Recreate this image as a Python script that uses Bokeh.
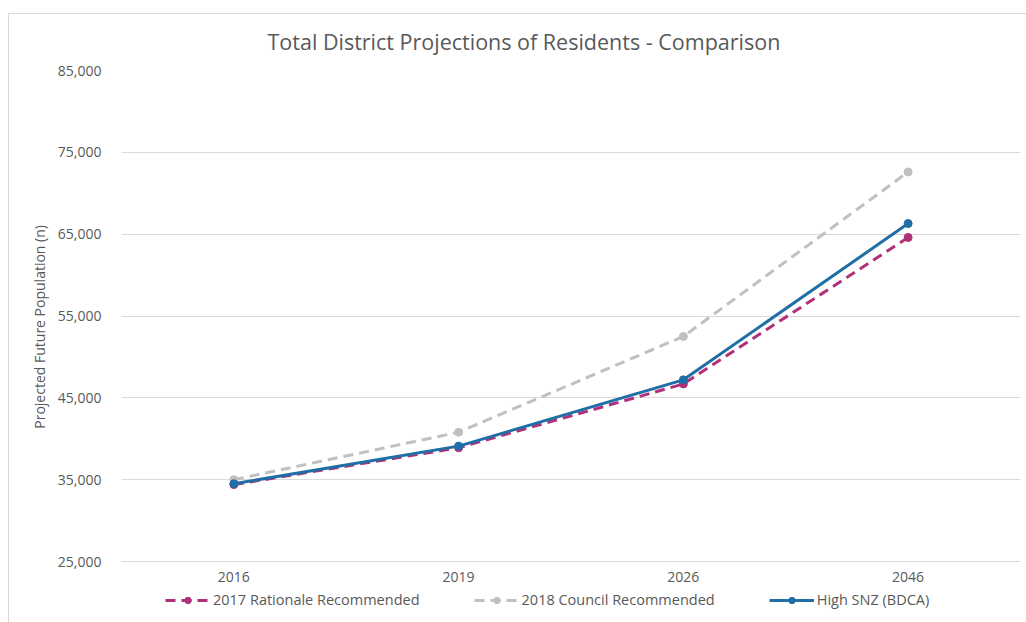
from bokeh.plotting import figure
from bokeh.layouts import column
from bokeh.models import ColumnDataSource, Legend, LegendItem, NumeralTickFormatter, FixedTicker, Range1d, Title
from bokeh.embed import file_html
from bokeh.resources import INLINE

years = ["2016", "2019", "2026", "2046"]
rationale_2017 = [34400, 38900, 46700, 64600]
council_2018 = [35000, 40800, 52500, 72600]
high_snz = [34500, 39100, 47200, 66300]
y_ticks = [25000, 35000, 45000, 55000, 65000, 75000, 85000]
series_labels = ["2017 Rationale Recommended", "2018 Council Recommended", "High SNZ (BDCA)"]

FONT = "Open Sans"
TXT = "#595959"
BORDER = "1px solid #d9d9d9"

p = figure(x_range=years, y_range=Range1d(25000, 85000), frame_width=898, frame_height=490,
           margin=(13, 0, 0, 8),
           styles={"border-left": BORDER, "border-top": BORDER},
           output_backend="svg", toolbar_location=None,
           min_border_left=112, min_border_right=7, min_border_top=56, min_border_bottom=30)
p.title = None
p.add_layout(Title(text="Total District Projections of Residents - Comparison", align="left", offset=146,
                   vertical_align="top",
                   text_font=FONT, text_font_size="21.5px", text_font_style="normal", text_color=TXT,
                   standoff=25), "above")
p.outline_line_color = None
p.background_fill_color = "white"
p.border_fill_color = "white"

p.xgrid.grid_line_color = None
p.ygrid.grid_line_color = "#d9d9d9"
p.ygrid.grid_line_width = 1
p.yaxis.ticker = FixedTicker(ticks=y_ticks)
p.yaxis.formatter = NumeralTickFormatter(format="0,0")
p.yaxis.axis_line_color = None
p.yaxis.major_tick_line_color = None
p.yaxis.minor_tick_line_color = None
p.yaxis.major_label_standoff = 14
p.yaxis.axis_label = "Projected Future Population (n)" + "\u00a0" * 6
p.yaxis.axis_label_standoff = 6
p.yaxis.axis_label_text_font = FONT
p.yaxis.axis_label_text_font_size = "14px"
p.yaxis.axis_label_text_font_style = "normal"
p.yaxis.axis_label_text_color = TXT
p.xaxis.axis_line_color = "#d9d9d9"
p.xaxis.major_tick_line_color = None
p.xaxis.minor_tick_line_color = None
p.xaxis.major_tick_out = 0
p.xaxis.major_tick_in = 0
p.xaxis.major_label_standoff = 10
for ax in (p.xaxis, p.yaxis):
    ax.major_label_text_font = FONT
    ax.major_label_text_font_size = "14px"
    ax.major_label_text_color = TXT

src = ColumnDataSource(dict(x=years, r=rationale_2017, c=council_2018, h=high_snz))

MAG = "#B1307A"
GRY = "#C0C0C0"
BLU = "#1F6EA5"
styles = [(MAG, "10 6"), (GRY, "10 6"), (BLU, "solid")]
cols = ["r", "c", "h"]

for i in (1, 0, 2):
    color, dash = styles[i]
    p.line("x", cols[i], source=src, line_color=color, line_width=3, line_dash=dash)
    p.scatter("x", cols[i], source=src, size=8, fill_color=color, line_color=color)

# legend strip below the chart (series drawn off-range here, only their legend glyphs show)
lf = figure(x_range=years, y_range=Range1d(0, 1), frame_width=1017, frame_height=32,
            margin=(0, 0, 0, 8), styles={"border-left": BORDER},
            output_backend="svg", toolbar_location=None,
            min_border_left=0, min_border_right=0, min_border_top=0, min_border_bottom=0)
lf.axis.visible = False
lf.grid.visible = False
lf.outline_line_color = None
lf.title = None
items = []
for i, lab in enumerate(series_labels):
    color, dash = styles[i]
    lr = lf.line("x", cols[i], source=src, line_color=color, line_width=3, line_dash=dash)
    sr = lf.scatter("x", cols[i], source=src, size=8, fill_color=color, line_color=color)
    items.append(LegendItem(label=lab, renderers=[lr, sr]))

legend = Legend(items=items, location=(156, 13), orientation="horizontal", padding=0, margin=0, spacing=54,
                glyph_width=45, glyph_height=16, label_standoff=3,
                label_text_font=FONT, label_text_font_size="14.5px", label_text_color=TXT,
                border_line_color=None, background_fill_alpha=0)
lf.add_layout(legend, "center")

layout = column(p, lf, spacing=0)
open("out.html", "w").write(file_html(layout, INLINE))
